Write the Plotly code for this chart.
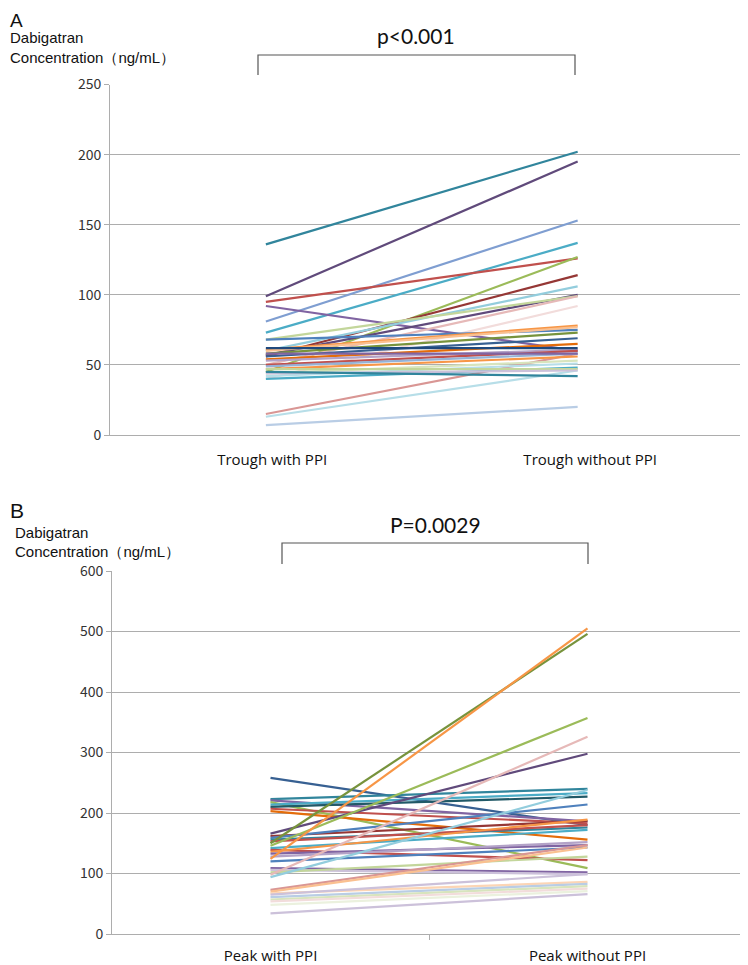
import plotly.graph_objects as go

# ---------------- data ----------------
categories_a = ["Trough with PPI", "Trough without PPI"]
categories_b = ["Peak with PPI", "Peak without PPI"]

trough_with = [136, 99, 81, 73, 95, 45, 56, 92, 60, 57, 68, 50, 40, 15, 13, 7,
               68, 61, 60, 58, 56, 54, 53, 50, 49, 47, 44, 42, 40, 47, 44, 45, 58, 62]
trough_without = [202, 195, 153, 137, 126, 127, 114, 60, 106, 100, 99, 99, 92, 58, 46, 20,
                  75, 78, 77, 73, 69, 65, 61, 60, 58, 56, 53, 51, 48, 47, 46, 42, 58, 62]

peak_with = [258, 223, 221, 218, 214, 210, 207, 203, 166, 162, 159, 156, 153, 150, 146,
             142, 139, 136, 133, 128, 124, 120, 109, 106, 102, 94, 98, 73, 70, 67, 65,
             61, 57, 54, 48, 34]
peak_without = [180, 240, 186, 109, 233, 227, 183, 156, 298, 187, 214, 176, 180, 496, 357,
                172, 122, 189, 147, 152, 505, 143, 102, 99, 128, 238, 326, 147, 143, 86, 99,
                83, 79, 75, 71, 66]

y_ticks_a = [0, 50, 100, 150, 200, 250]
y_ticks_b = [0, 100, 200, 300, 400, 500, 600]

p_text_a = "p<0.001"
p_text_b = "P=0.0029"

# ---------------- styles ----------------
colors_a = ["#31859C", "#604A7B", "#7F9ED1", "#4BACC6", "#C0504D", "#9BBB59", "#953735",
            "#8064A2", "#93CDDD", "#604A7B", "#C3D69B", "#E6B9B8", "#F2DCDB", "#D99694",
            "#B7DEE8", "#B9CDE5", "#4F81BD", "#F79646", "#FAC090", "#77933C", "#376092",
            "#E46C0A", "#B3A2C7", "#C0504D", "#95B3D7", "#F79646", "#D7E4BD", "#B7DEE8",
            "#4BACC6", "#C3D69B", "#CCC1DA", "#31859C", "#8064A2", "#1F497D"]
colors_b = ["#376092", "#31859C", "#8064A2", "#9BBB59", "#4BACC6", "#215967", "#C0504D",
            "#E46C0A", "#604A7B", "#953735", "#4F81BD", "#31859C", "#C0504D", "#77933C",
            "#9BBB59", "#4BACC6", "#C0504D", "#F79646", "#8064A2", "#B3A2C7", "#F79646",
            "#4F81BD", "#8064A2", "#CCC1DA", "#C3D69B", "#93CDDD", "#E6B9B8", "#D99694",
            "#FAC090", "#FCD5B5", "#CCC1DA", "#B9CDE5", "#D7E4BD", "#F2DCDB", "#EBF1DE",
            "#CCC1DA"]

OFF = 8  # page body margin
W, H = 748 - OFF, 965 - OFF
font_fam = "Noto Sans CJK JP, Noto Sans, sans-serif"
lab_fam = "Liberation Sans, Arial, sans-serif"
cat_font = dict(size=15, family="Open Sans, Lato, sans-serif", color="#111111")

fig = go.Figure()

for i in range(len(trough_with)):
    fig.add_trace(go.Scatter(x=[0, 1], y=[trough_with[i], trough_without[i]],
                             mode="lines", line=dict(color=colors_a[i % len(colors_a)], width=2.2),
                             xaxis="x", yaxis="y", showlegend=False, hoverinfo="y"))
for i in range(len(peak_with)):
    fig.add_trace(go.Scatter(x=[0, 1], y=[peak_with[i], peak_without[i]],
                             mode="lines", line=dict(color=colors_b[i % len(colors_b)], width=2.2),
                             xaxis="x2", yaxis="y2", showlegend=False, hoverinfo="y"))

def px_x(p):
    return max(p - OFF, 0) / W

def px_y(p):
    return 1 - (p - OFF) / H

grid_col = "#ADADAD"
axis_common = dict(showline=True, linecolor=grid_col, linewidth=1, zeroline=False,
                   automargin=False)

fig.update_layout(
    width=W, height=H,
    margin=dict(l=0, r=0, t=0, b=0, pad=0, autoexpand=False),
    paper_bgcolor="white", plot_bgcolor="white",
    font=dict(family=font_fam, color="#222222"),
    xaxis=dict(domain=[px_x(110), px_x(746)], range=[-0.5, 1.54],
               tickvals=[0.02, 1.04], ticktext=categories_a, tickfont=cat_font,
               ticklabelstandoff=11,
               showgrid=False, ticks="", anchor="y", **axis_common),
    yaxis=dict(domain=[px_y(435), px_y(84.5)], range=[0, 250], tickvals=y_ticks_a,
               showgrid=True, gridcolor=grid_col, gridwidth=1, ticks="outside",
               ticklen=5, tickcolor=grid_col, tickfont=dict(size=14, color="#333333"),
               anchor="x", **axis_common),
    xaxis2=dict(domain=[px_x(112), px_x(746)], range=[-0.5, 1.5],
                tickvals=[0, 1], ticktext=categories_b, tickfont=cat_font,
                ticklabelstandoff=8,
                showgrid=False, ticks="", anchor="y2",
                minor=dict(tickvals=[0.5, 1.5], ticks="outside", ticklen=5, tickcolor=grid_col),
                **axis_common),
    yaxis2=dict(domain=[px_y(934), px_y(571)], range=[0, 600], tickvals=y_ticks_b,
                showgrid=True, gridcolor=grid_col, gridwidth=1, ticks="outside",
                ticklen=5, tickcolor=grid_col, tickfont=dict(size=14, color="#333333"),
                anchor="x2", **axis_common),
)

# brackets
br_col = "#555555"
def bracket(x0, x1, ytop, ybot):
    fig.add_shape(type="path", xref="paper", yref="paper",
                  path=f"M {px_x(x0)} {px_y(ybot)} L {px_x(x0)} {px_y(ytop)} L {px_x(x1)} {px_y(ytop)} L {px_x(x1)} {px_y(ybot)}",
                  line=dict(color=br_col, width=1.2))

bracket(258, 575, 55, 75)
bracket(282, 588, 543, 564)

def txt(x, y, s, size, anchor="center", family=font_fam, yanchor="middle"):
    fig.add_annotation(x=px_x(x), y=px_y(y), xref="paper", yref="paper", text=s,
                       showarrow=False, xanchor=anchor, yanchor=yanchor,
                       font=dict(size=size, family=family, color="#111111"))

txt(416, 35, p_text_a, 21, family="Lato, Open Sans, sans-serif")
txt(435, 524, p_text_b, 21, family="Lato, Open Sans, sans-serif")

txt(0, 8, "A", 19, anchor="left", family=lab_fam, yanchor="top")
txt(2, 38, "Dabigatran", 15, anchor="left", family=lab_fam)
txt(2, 57, "Concentration（ng/mL）", 15, anchor="left", family=lab_fam)

txt(8, 510, "B", 21, anchor="left", family=lab_fam)
txt(13, 532, "Dabigatran", 15, anchor="left", family=lab_fam)
txt(13, 551, "Concentration（ng/mL）", 15, anchor="left", family=lab_fam)

fig.write_html("out.html")
